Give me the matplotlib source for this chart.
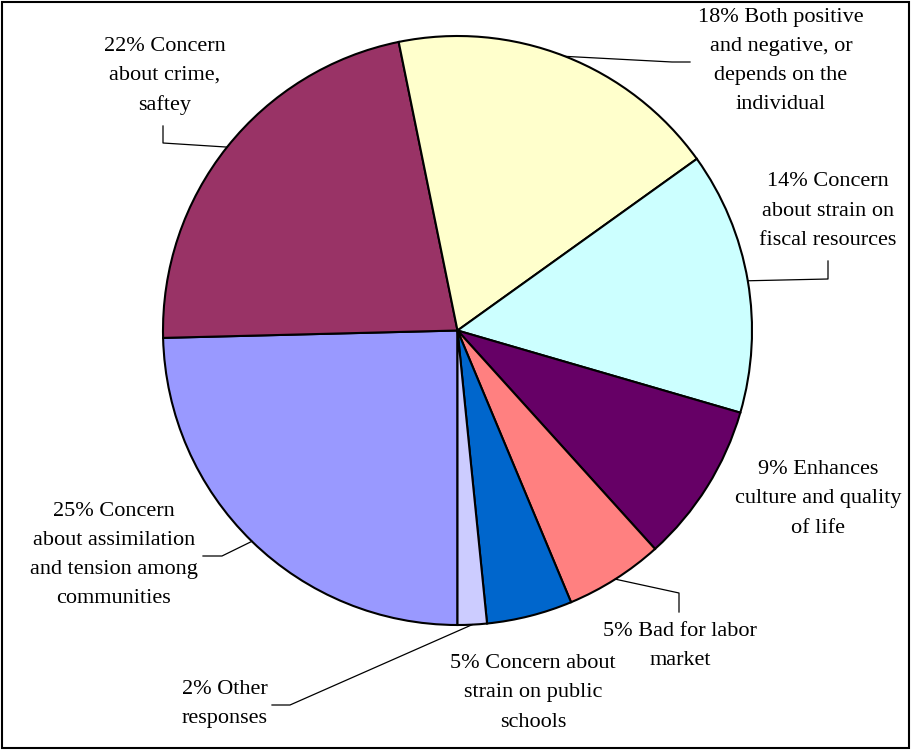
import numpy as np
import matplotlib
matplotlib.use("Agg")
import matplotlib.pyplot as plt
from matplotlib.patches import Rectangle

# slice shares (percent), in data order
categories = ["Concern about assimilation and tension among communities",
              "Concern about crime, saftey",
              "Both positive and negative, or depends on the individual",
              "Concern about strain on fiscal resources",
              "Enhances culture and quality of life",
              "Bad for labor market",
              "Concern about strain on public schools",
              "Other responses"]
shares = [24.6, 22.2, 18.3, 14.4, 8.8, 5.4, 4.7, 1.6]
label_texts = ["25% Concern\nabout assimilation\nand tension among\ncommunities",
               "22% Concern\nabout crime,\nsaftey",
               "18% Both positive\nand negative, or\ndepends on the\nindividual",
               "14% Concern\nabout strain on\nfiscal resources",
               "9% Enhances\nculture and quality\nof life",
               "5% Bad for labor\nmarket",
               "5% Concern about\nstrain on public\nschools",
               "2% Other\nresponses"]
colors = ["#9999FF", "#993366", "#FFFFCC", "#CCFFFF",
          "#660066", "#FF8080", "#0066CC", "#CCCCFF"]

W, H = 912, 750
# label centres and leader elbows, in pixel coords (y down)
label_pos = [(114, 555), (165, 76), (781, 61), (828, 211),
             (818, 499), (680, 646), (533, 693), (225, 704)]
leaders = [[(222, 556), (203, 556)],
           [(163, 143), (163, 126)],
           [(672, 62), (690, 62)],
           [(828, 279), (828, 261)],
           None,
           [(679, 593), (679, 612)],
           None,
           [(290, 705), (272, 705)]]

cx, cy, r = 457.5, 330.5, 294.5

fig = plt.figure(figsize=(W / 100, H / 100), dpi=100)
ax = fig.add_axes([0, 0, 1, 1])

wedges, _ = ax.pie(shares, colors=colors, startangle=-90, counterclock=False,
                   center=(cx, H - cy), radius=r,
                   wedgeprops=dict(edgecolor="black", linewidth=1.5))

for w, txt, pos, lead in zip(wedges, label_texts, label_pos, leaders):
    ax.text(pos[0], H - pos[1], txt, ha="center", va="center",
            family="Liberation Serif", fontsize=16, linespacing=1.72,
            color="black")
    if lead is not None:
        mid = np.deg2rad((w.theta1 + w.theta2) / 2)
        xs = [cx + r * np.cos(mid)] + [p[0] for p in lead]
        ys = [H - cy + r * np.sin(mid)] + [H - p[1] for p in lead]
        ax.plot(xs, ys, color="black", linewidth=0.9)

ax.add_patch(Rectangle((2, H - 748), 907, 746, fill=False,
                       edgecolor="black", linewidth=1.5))

ax.set_xlim(0, W)
ax.set_ylim(0, H)
ax.set_aspect("equal")
ax.axis("off")

fig.savefig("out.png", dpi=100, facecolor="white")
